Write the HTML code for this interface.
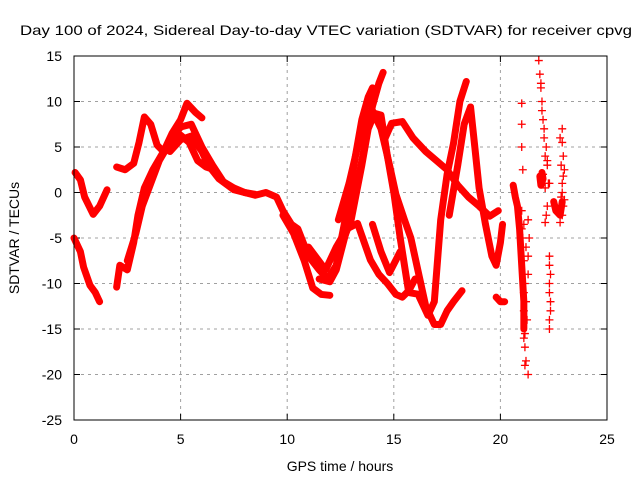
<!DOCTYPE html>
<html><head><meta charset="utf-8"><style>
html,body{margin:0;padding:0;background:#fff;}
svg{display:block;font-family:"Liberation Sans",sans-serif;}
</style></head><body>
<svg id="chart" width="640" height="480" viewBox="0 0 640 480">
<text x="20" y="35" font-size="14" textLength="612" lengthAdjust="spacingAndGlyphs">Day 100 of 2024, Sidereal Day-to-day VTEC variation (SDTVAR) for receiver cpvg</text>
<g id="grid"></g>
<g id="ticks"></g>
<g id="series"></g>
<rect x="74" y="56" width="533" height="364" fill="none" stroke="#000" stroke-width="1"/>
<text x="340" y="471" font-size="14" text-anchor="middle">GPS time / hours</text>
<text x="19" y="238" font-size="14" text-anchor="middle" transform="rotate(-90 19 238)">SDTVAR / TECUs</text>
</svg>
<script>
const xTicks=[0,5,10,15,20,25];
const yTicks=[15,10,5,0,-5,-10,-15,-20,-25];
const trackA=[[0.05,2.2],[0.3,1.4],[0.5,-0.5],[0.9,-2.4],[1.2,-1.5],[1.55,0.3]];
const trackB=[[0,-5],[0.3,-6.5],[0.45,-8.2],[0.75,-10.2],[1.0,-11],[1.2,-12]];
const trackC1=[[2.0,2.8],[2.4,2.5],[2.8,3.2],[3.05,5.5],[3.3,8.3],[3.6,7.5],[3.9,5.2],[4.2,4.5],[4.6,6.5],[5.0,8.0],[5.3,9.8],[5.7,8.8],[6.0,8.2]];
const trackC2=[[2.0,-10.4],[2.15,-8],[2.5,-8.5],[2.8,-5.5],[3.0,-2.5],[3.3,0.5],[3.7,2.5],[4.2,4.5],[4.7,6],[5.0,6.3],[5.4,5.5],[5.8,3.5],[6.2,2.8],[6.6,2.5]];
const trackC3=[[2.5,-7.5],[2.9,-4.5],[3.2,-1.5],[3.6,1.0],[4.0,3.5],[4.5,5.5],[5.0,7.2],[5.5,7.5],[6.0,5],[6.5,3],[7.0,1.2],[7.5,0.5],[8.0,0],[8.5,-0.2]];
const trackC4=[[4.5,4.5],[5.0,5.8],[5.5,6.2],[6.0,4.5],[6.3,3.0],[6.8,1.5],[7.5,0.3],[8.5,-0.3],[9.0,0.0],[9.5,-0.5],[9.8,-2.0],[10.2,-3.5],[10.5,-4.0],[11.0,-7],[11.5,-8.5],[11.9,-9.5],[12.3,-8],[12.8,-2],[13.2,4],[13.5,8],[13.8,10.5],[14.0,11.5]];
const trackD=[[11.5,-9.5],[12.0,-9.8],[12.3,-8.5],[12.8,-4],[13.3,1],[13.7,6],[14.0,9.5],[14.3,12],[14.5,13.2]];
const trackE=[[12.4,-3],[12.9,1],[13.3,5],[13.7,8.5],[14.0,9],[14.4,7],[14.8,3],[15.1,-0.2],[15.5,-3],[15.8,-5],[16.2,-9.3],[16.5,-12.5],[16.9,-14.5],[17.2,-14.5],[17.5,-13],[17.8,-12],[18.2,-10.8]];
const trackE2=[[12.5,-6],[13.0,-3],[13.5,3],[13.8,7],[14.1,8.7],[14.4,8.5],[14.7,4],[15.0,0],[15.3,-5],[15.5,-8],[15.7,-11],[16.2,-11.2]];
const trackF=[[14.6,6],[14.9,7.6],[15.4,7.8],[15.9,6],[16.5,4.5],[17.0,3.5],[17.5,2.5],[18.0,0.8],[18.5,-0.5],[19.0,-1.5],[19.5,-2.6],[19.9,-2.0]];
const trackG=[[16.2,-11.5],[16.6,-13.5],[16.9,-12],[17.2,-3],[17.5,2],[17.8,5.4],[18.1,10],[18.4,12.2]];
const trackH=[[17.6,-2.5],[18.0,3],[18.3,7.5],[18.6,9.4],[18.8,5],[19.0,0.5],[19.3,-3.5],[19.6,-7],[19.8,-8],[20.0,-5.5],[20.1,-3.5]];
const trackI=[[9.8,-2.5],[10.3,-4.5],[10.8,-7.5],[11.2,-10.5],[11.6,-11.2],[12.0,-11.3]];
const trackJ=[[11.0,-6],[11.8,-8.5],[12.3,-6],[12.8,-4],[13.3,-3.4],[13.9,-7.4],[14.3,-9],[14.7,-10],[15.1,-11.2],[15.4,-11.5],[15.7,-10.8],[16.0,-9.5]];
const trackK=[[14.0,-3.5],[14.4,-6.5],[14.8,-8.8],[15.3,-6.5]];
const trackL=[[19.8,-11.5],[20.0,-12],[20.2,-12]];
const trackM=[[20.6,0.8],[20.7,-0.5],[20.8,-1.5],[20.9,-4],[21.0,-8],[21.1,-12],[21.1,-15]];
const trackN=[[21.85,1.8],[21.9,0.8],[22.0,1.5],[21.95,2.2]];
const trackO=[[22.5,-1],[22.6,-2],[22.8,-2.5],[22.9,-1]];
const sparseT=[21.0,21.0,21.0,21.05,21.0,21.05,21.1,21.1,21.1,21.15,21.15,21.2,21.3,21.3,21.35,21.3,21.3,21.8,21.85,21.9,21.95,22.0,22.05,22.1,22.0,22.1,22.2,22.1,22.2,22.3,22.3,22.35,22.3,22.35,22.3,22.3,22.9,22.9,22.95,23.0,22.9,22.85,22.95,22.9,22.8,22.9,21.0,21.05,21.1,21.15,21.2,21.25,21.1,21.15,21.9,21.95,22.05,22.15,22.2,22.25,22.15,22.3,22.3,22.35,22.8,22.85,22.95,23.0,21.2,21.1];
const sparseV=[9.8,7.5,5,2.5,-4,-6,-9,-11,-13,-15.5,-17,-18.5,-20,-3,-5,-7,-9,14.5,13,11.5,10,8,6,4,2,0.5,-1.5,-3.3,3,1,-7,-9,-11,-13,-14,-15,7,5.5,4,2.5,1,-0.5,-1.5,-2.5,-3.3,0,-2,-5,-7.5,-10,-12,-14,-16,-19,12,9,7,5,3.5,1,-2.5,-8,-10,-12,6,3,1.8,-0.8,-6,-3.5];
const x0=74,x1=607,y0=420,y1=56;
const X=t=>x0+(t-0)/(25-0)*(x1-x0);
const Y=v=>y0-(v-(-25))/(15-(-25))*(y0-y1);
const NS="http://www.w3.org/2000/svg";
const grid=document.getElementById('grid'),ticks=document.getElementById('ticks'),ser=document.getElementById('series');
function mk(tag,attrs,parent){const e=document.createElementNS(NS,tag);for(const k in attrs)e.setAttribute(k,attrs[k]);parent.appendChild(e);return e;}
xTicks.forEach(t=>{
  const x=X(t);
  if(t>0&&t<25){const g=mk('line',{x1:x,x2:x,y1:y1,y2:y0,stroke:'#a0a0a0','stroke-dasharray':'3,4'},grid);
  
  }
  mk('line',{x1:x,x2:x,y1:y0,y2:y0-6,stroke:'#000'},ticks);
  mk('line',{x1:x,x2:x,y1:y1,y2:y1+6,stroke:'#000'},ticks);
  const l=mk('text',{x:x,y:y0+24,'font-size':14,'text-anchor':'middle'},ticks);
  l.textContent=t;
  
  
});
yTicks.forEach(v=>{
  const y=Y(v);
  if(v<15&&v>-25){const g=mk('line',{x1:x0,x2:x1,y1:y,y2:y,stroke:'#a0a0a0','stroke-dasharray':'3,4'},grid);
  
  }
  mk('line',{x1:x0,x2:x0+6,y1:y,y2:y,stroke:'#000'},ticks);
  mk('line',{x1:x1,x2:x1-6,y1:y,y2:y,stroke:'#000'},ticks);
  const l=mk('text',{x:x0-12,y:y+5,'font-size':14,'text-anchor':'end'},ticks);
  l.textContent=v;
  
  
});
const tracks=[trackA,trackB,trackC1,trackC2,trackC3,trackC4,trackD,trackE,trackE2,trackF,trackG,trackH,trackI,trackJ,trackK,trackL,trackM,trackN,trackO];
tracks.forEach((tr,i)=>{
  const p=mk('polyline',{points:tr.map(d=>X(d[0])+','+Y(d[1])).join(' '),fill:'none',stroke:'#ff0000','stroke-width':7,'stroke-linejoin':'round','stroke-linecap':'round'},ser);
  
  
});
sparseT.forEach((t,i)=>{
  const x=X(t),y=Y(sparseV[i]);
  const p=mk('path',{d:`M${x-4},${y}H${x+4}M${x},${y-4}V${y+4}`,stroke:'#ff0000','stroke-width':1.3},ser);
  
  
});
</script>
</body></html>
